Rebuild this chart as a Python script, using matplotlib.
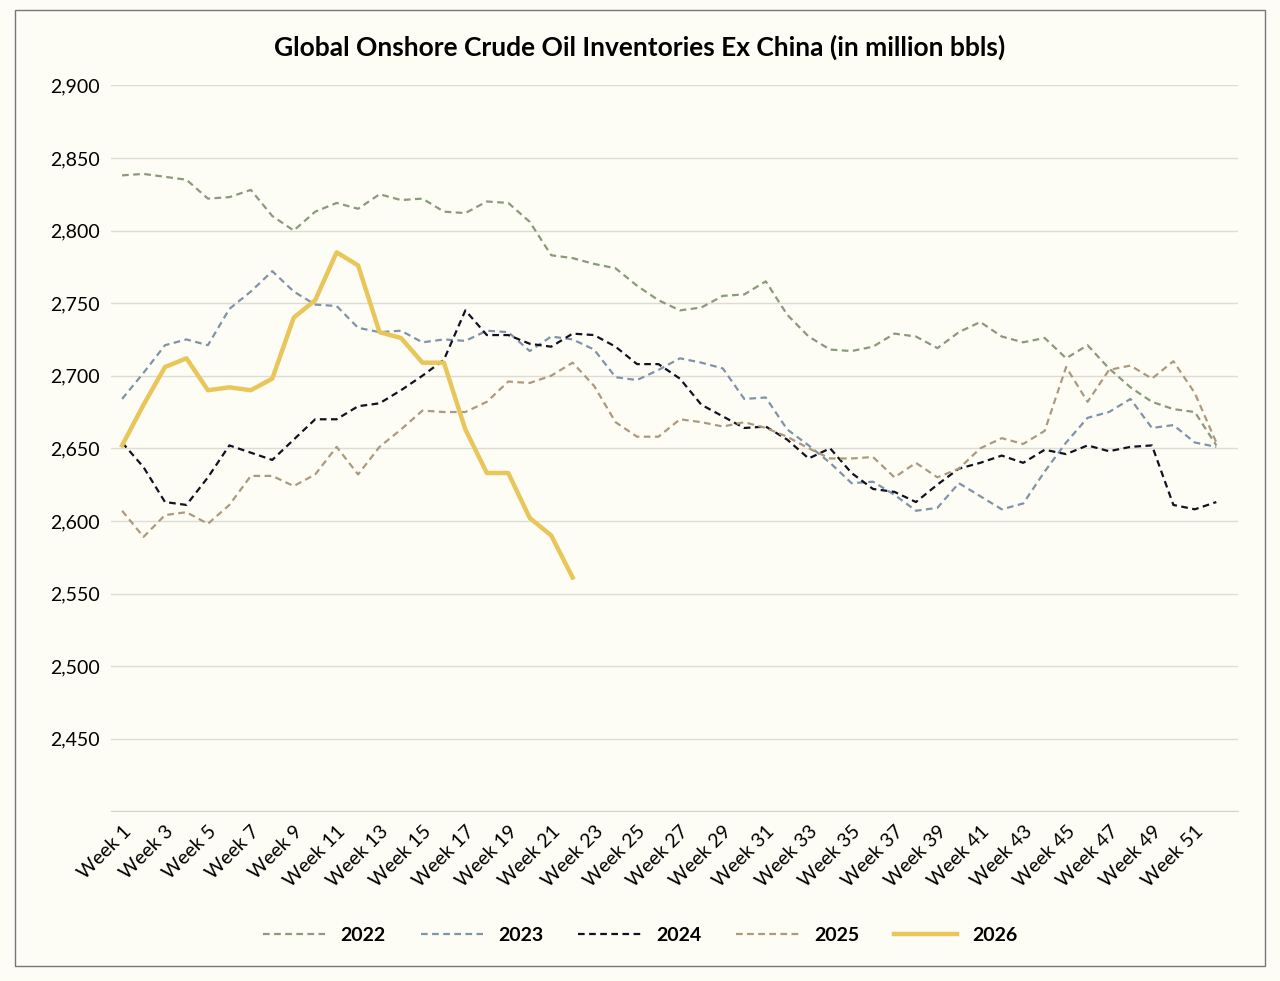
import matplotlib.pyplot as plt

plt.rcParams['font.family'] = ['Lato', 'DejaVu Sans']

weeks = list(range(1, 53))
tick_labels = [f'Week {w}' for w in weeks]

y2022 = [2838, 2839, 2837, 2835, 2822, 2823, 2828, 2810, 2800, 2813, 2819, 2815, 2825, 2821, 2822, 2813,
         2812, 2820, 2819, 2806, 2783, 2781, 2777, 2774, 2762, 2752, 2745, 2747, 2755, 2756, 2765, 2742,
         2727, 2718, 2717, 2720, 2729, 2727, 2719, 2730, 2737, 2727, 2723, 2726, 2712, 2721, 2705, 2692,
         2682, 2677, 2675, 2652]
y2023 = [2684, 2702, 2721, 2725, 2721, 2746, 2758, 2772, 2758, 2749, 2748, 2733, 2730, 2731, 2723, 2725,
         2724, 2731, 2730, 2717, 2727, 2725, 2718, 2699, 2697, 2704, 2712, 2709, 2705, 2684, 2685, 2663,
         2652, 2640, 2626, 2627, 2618, 2607, 2609, 2626, 2617, 2608, 2612, 2634, 2654, 2671, 2675, 2684,
         2664, 2666, 2654, 2651]
y2024 = [2654, 2637, 2613, 2611, 2630, 2652, 2647, 2642, 2656, 2670, 2670, 2679, 2681, 2690, 2700, 2711,
         2745, 2728, 2728, 2722, 2720, 2729, 2728, 2720, 2708, 2708, 2698, 2680, 2672, 2664, 2665, 2656,
         2643, 2650, 2633, 2622, 2620, 2613, 2625, 2636, 2640, 2645, 2640, 2649, 2646, 2652, 2648, 2651,
         2652, 2611, 2608, 2613]
y2025 = [2607, 2589, 2604, 2606, 2598, 2611, 2631, 2631, 2624, 2632, 2651, 2632, 2651, 2663, 2676, 2675,
         2675, 2682, 2696, 2695, 2700, 2709, 2693, 2668, 2658, 2658, 2670, 2668, 2665, 2668, 2664, 2658,
         2650, 2643, 2643, 2644, 2630, 2640, 2630, 2636, 2650, 2657, 2653, 2662, 2706, 2682, 2704, 2707,
         2698, 2710, 2688, 2654]
y2026 = [2652, 2680, 2706, 2712, 2690, 2692, 2690, 2698, 2740, 2752, 2785, 2776, 2730, 2726, 2709, 2709,
         2663, 2633, 2633, 2602, 2590, 2561]

bg = '#fdfdf6'
fig = plt.figure(figsize=(12.8, 9.81), dpi=100, facecolor=bg)
ax = fig.add_axes([0.087, 0.173, 0.88, 0.74], facecolor=bg)

ax.plot(weeks, y2022, color='#8a9a7a', ls=(0, (3, 2)), lw=1.6, label='2022')
ax.plot(weeks, y2023, color='#7f93ab', ls=(0, (3, 2)), lw=1.6, label='2023')
ax.plot(weeks, y2024, color='#111122', ls=(0, (3, 2)), lw=1.6, label='2024')
ax.plot(weeks, y2025, color='#ad9a7e', ls=(0, (3, 2)), lw=1.6, label='2025')
ax.plot(weeks[:len(y2026)], y2026, color='#e8c65a', lw=3.2, label='2026')

ax.set_ylim(2400, 2900)
ax.set_xlim(0.5, 53)
ax.set_yticks(range(2400, 2901, 50))
ax.set_yticklabels(['' if v == 2400 else f'{v:,}' for v in range(2400, 2901, 50)], fontsize=14)
ax.set_xticks(weeks[::2])
ax.set_xticklabels(tick_labels[::2], rotation=45, ha='right', rotation_mode='anchor', fontsize=14)
ax.grid(axis='y', color='#dedcd4', lw=1)
ax.set_axisbelow(True)
for s in ['top', 'right', 'left']:
    ax.spines[s].set_visible(False)
ax.spines['bottom'].set_color('#d6d4cc')
ax.tick_params(length=0, pad=8)

fig.suptitle('Global Onshore Crude Oil Inventories Ex China (in million bbls)',
             y=0.965, fontsize=19, fontweight='bold')
fig.legend(loc='lower center', ncol=5, frameon=False, bbox_to_anchor=(0.5, 0.02),
           prop={'size': 14, 'weight': 'bold'}, handlelength=3.2, columnspacing=1.8)
fig.patches.append(plt.Rectangle((0.012, 0.015), 0.976, 0.975, transform=fig.transFigure,
                                 fill=False, edgecolor='#777777', lw=1))
fig.savefig('out.png', dpi=100, facecolor=bg)
